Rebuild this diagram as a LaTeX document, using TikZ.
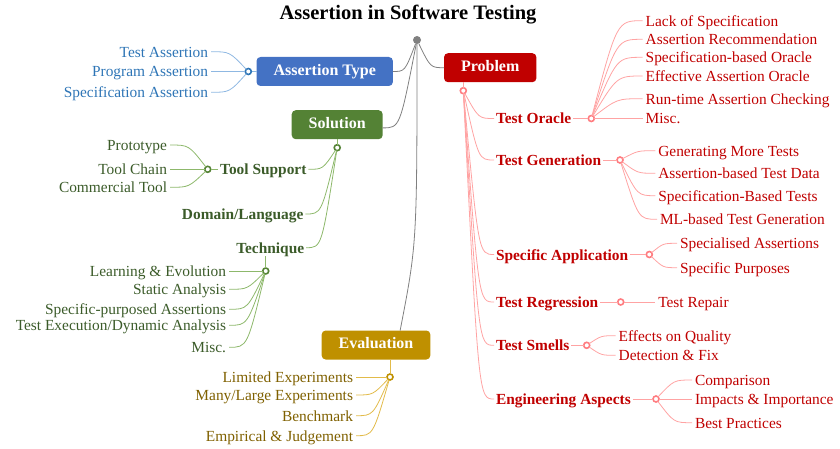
\documentclass[tikz,border=0pt]{standalone}
\usepackage{fontspec}
\setmainfont{Liberation Serif}
\usetikzlibrary{calc}
\definecolor{atblue}{HTML}{4472C4}
\definecolor{attext}{HTML}{2E75B6}
\definecolor{atline}{HTML}{8FB8E2}
\definecolor{slgreen}{HTML}{548235}
\definecolor{sltext}{HTML}{3B5B29}
\definecolor{slline}{HTML}{8DB86B}
\definecolor{evgold}{HTML}{BF9000}
\definecolor{evtext}{HTML}{7F6000}
\definecolor{evline}{HTML}{E2BB4A}
\definecolor{pbred}{HTML}{C00000}
\definecolor{pbline}{HTML}{FFA3A3}
\definecolor{pbknob}{HTML}{FF7C80}
\definecolor{rootgray}{HTML}{808080}
\begin{document}
\begin{tikzpicture}[x=1pt,y=-1pt,inner sep=0pt,outer sep=0pt,
mainbox/.style={rectangle,rounded corners=4pt,text=white,font=\bfseries\fontsize{16}{19}\selectfont,inner xsep=17pt,minimum height=29pt,text height=11pt,text depth=3.5pt},
leaf/.style={font=\fontsize{15.4}{18}\selectfont,inner xsep=3pt,text height=14pt,text depth=3pt},
sublabel/.style={font=\bfseries\fontsize{15.4}{18}\selectfont,inner xsep=2pt,text height=14pt,text depth=3pt},
knob/.style={draw,circle,fill=white,line width=1.6pt,minimum size=6pt},
rootdot/.style={circle,fill=rootgray,minimum size=8pt},
curvy/.style={to path={.. controls ($(\tikztostart |- \tikztotarget)!0.5!(\tikztotarget)$) .. (\tikztotarget) \tikztonodes}},
rootline/.style={draw=rootgray,line width=0.8pt},
atbranch/.style={draw=atline,line width=0.8pt},
slbranch/.style={draw=slline,line width=0.8pt},
evbranch/.style={draw=evline,line width=0.8pt},
pbbranch/.style={draw=pbline,line width=0.8pt}]
\useasboundingbox (0,0) rectangle (840,449);
\draw (408,14.5) node[font=\bfseries\fontsize{20.5}{24}\selectfont] (title) {Assertion in Software Testing};
\draw (417,40) node[rootdot] (root) {};
\draw (324.7,71.5) node[mainbox,fill=atblue] (atype) {Assertion Type};
\draw (490.2,67.7) node[mainbox,fill=pbred] (prob) {Problem};
\draw (337.2,124.7) node[mainbox,fill=slgreen] (sol) {Solution};
\draw (376,345) node[mainbox,fill=evgold] (eval) {Evaluation};
\draw[rootline] (root) to[curvy] (atype.east);
\draw[rootline] (root) to[curvy] (prob.west);
\draw[rootline] (root) to[curvy] (sol.-4);
\draw[rootline] (root) .. controls ($(root)!0.7!(root |- eval.31)$) .. (eval.31);
\draw (211,51.7) node[leaf,anchor=east,text=attext] (tasrt) {Test Assertion};
\draw (211,71.5) node[leaf,anchor=east,text=attext] (pasrt) {Program Assertion};
\draw (211,92.3) node[leaf,anchor=east,text=attext] (sasrt) {Specification Assertion};
\draw[atbranch] (atype.west) -- (248.3,71.5) node[knob,draw=attext] (atc) {};
\draw[atbranch] (atc) to[curvy] (tasrt.east);
\draw[atbranch] (atc) -- (pasrt.east);
\draw[atbranch] (atc) to[curvy] (sasrt.east);
\draw (337.2,147.7) node[knob,draw=slgreen] (solc) {};
\draw[slbranch] (sol.south) -- (solc);
\draw (263.3,169.3) node[sublabel,text=sltext] (tsup) {Tool Support};
\draw (242.7,214) node[sublabel,text=sltext] (dom) {Domain/Language};
\draw (270.2,247.7) node[sublabel,text=sltext] (tech) {Technique};
\draw[slbranch] (solc) to[curvy] (tsup.east);
\draw[slbranch] (solc) to[curvy] (dom.east);
\draw[slbranch] (solc) to[curvy] (tech.east);
\draw (207.7,169.3) node[knob,draw=slgreen] (tsc) {};
\draw[slbranch] (tsup.west) -- (tsc);
\draw (170,145) node[leaf,anchor=east,text=sltext] (proto) {Prototype};
\draw (170,169.3) node[leaf,anchor=east,text=sltext] (chain) {Tool Chain};
\draw (170,187.3) node[leaf,anchor=east,text=sltext] (comm) {Commercial Tool};
\draw[slbranch] (tsc) to[curvy] (proto.east);
\draw[slbranch] (tsc) -- (chain.east);
\draw[slbranch] (tsc) to[curvy] (comm.east);
\draw (265.7,271) node[knob,draw=slgreen] (tqc) {};
\draw[slbranch] (tech.south -| tqc) -- (tqc);
\draw (229,271) node[leaf,anchor=east,text=sltext] (learn) {Learning \& Evolution};
\draw (229,289.3) node[leaf,anchor=east,text=sltext] (static) {Static Analysis};
\draw (229,309.3) node[leaf,anchor=east,text=sltext] (specp) {Specific-purposed Assertions};
\draw (229,325.3) node[leaf,anchor=east,text=sltext] (dyn) {Test Execution/Dynamic Analysis};
\draw (229,347.3) node[leaf,anchor=east,text=sltext] (tmisc) {Misc.};
\draw[slbranch] (tqc) -- (learn.east);
\draw[slbranch] (tqc) to[curvy] (static.east);
\draw[slbranch] (tqc) to[curvy] (specp.east);
\draw[slbranch] (tqc) to[curvy] (dyn.east);
\draw[slbranch] (tqc) to[curvy] (tmisc.east);
\draw (390,377) node[knob,draw=evgold] (evc) {};
\draw[evbranch] (eval.south -| evc) -- (evc);
\draw (356,377) node[leaf,anchor=east,text=evtext] (limexp) {Limited Experiments};
\draw (356,395) node[leaf,anchor=east,text=evtext] (manyexp) {Many/Large Experiments};
\draw (356,415.7) node[leaf,anchor=east,text=evtext] (bench) {Benchmark};
\draw (356,435.7) node[leaf,anchor=east,text=evtext] (empir) {Empirical \& Judgement};
\draw[evbranch] (evc) -- (limexp.east);
\draw[evbranch] (evc) to[curvy] (manyexp.east);
\draw[evbranch] (evc) to[curvy] (bench.east);
\draw[evbranch] (evc) to[curvy] (empir.east);
\draw (463.3,90.7) node[knob,draw=pbknob] (prc) {};
\draw[pbbranch] (prob.south -| prc) -- (prc);
\draw (494,118.5) node[sublabel,anchor=west,text=pbred] (orcl) {Test Oracle};
\draw (494,160) node[sublabel,anchor=west,text=pbred] (tgen) {Test Generation};
\draw (494,254.5) node[sublabel,anchor=west,text=pbred] (sapp) {Specific Application};
\draw (494,302) node[sublabel,anchor=west,text=pbred] (treg) {Test Regression};
\draw (494,345.3) node[sublabel,anchor=west,text=pbred] (smell) {Test Smells};
\draw (494,399) node[sublabel,anchor=west,text=pbred] (engr) {Engineering Aspects};
\draw[pbbranch] (prc) to[curvy] (orcl.west);
\draw[pbbranch] (prc) to[curvy] (tgen.west);
\draw[pbbranch] (prc) to[curvy] (sapp.west);
\draw[pbbranch] (prc) to[curvy] (treg.west);
\draw[pbbranch] (prc) to[curvy] (smell.west);
\draw[pbbranch] (prc) to[curvy] (engr.west);
\draw (591.3,118.5) node[knob,draw=pbknob] (orc) {};
\draw[pbbranch] (orcl.east) -- (orc);
\draw (642.7,20.7) node[leaf,anchor=west,text=pbred] (lack) {Lack of Specification};
\draw (642.7,39.3) node[leaf,anchor=west,text=pbred] (recom) {Assertion Recommendation};
\draw (642.7,57.3) node[leaf,anchor=west,text=pbred] (sbo) {Specification-based Oracle};
\draw (642.7,76) node[leaf,anchor=west,text=pbred] (eao) {Effective Assertion Oracle};
\draw (642.7,98.7) node[leaf,anchor=west,text=pbred] (rtac) {Run-time Assertion Checking};
\draw (642.7,118.5) node[leaf,anchor=west,text=pbred] (omisc) {Misc.};
\draw[pbbranch] (orc) to[curvy] (lack.west);
\draw[pbbranch] (orc) to[curvy] (recom.west);
\draw[pbbranch] (orc) to[curvy] (sbo.west);
\draw[pbbranch] (orc) to[curvy] (eao.west);
\draw[pbbranch] (orc) to[curvy] (rtac.west);
\draw[pbbranch] (orc) -- (omisc.west);
\draw (620,160) node[knob,draw=pbknob] (gnc) {};
\draw[pbbranch] (tgen.east) -- (gnc);
\draw (655.3,150.7) node[leaf,anchor=west,text=pbred] (gmore) {Generating More Tests};
\draw (655.3,173.3) node[leaf,anchor=west,text=pbred] (abtd) {Assertion-based Test Data};
\draw (655.3,195.7) node[leaf,anchor=west,text=pbred] (sbt) {Specification-Based Tests};
\draw (657,219.3) node[leaf,anchor=west,text=pbred] (mltg) {ML-based Test Generation};
\draw[pbbranch] (gnc) to[curvy] (gmore.west);
\draw[pbbranch] (gnc) to[curvy] (abtd.west);
\draw[pbbranch] (gnc) to[curvy] (sbt.west);
\draw[pbbranch] (gnc) to[curvy] (mltg.west);
\draw (649.3,254.5) node[knob,draw=pbknob] (apc) {};
\draw[pbbranch] (sapp.east) -- (apc);
\draw (677,243.3) node[leaf,anchor=west,text=pbred] (spasrt) {Specialised Assertions};
\draw (677,267.7) node[leaf,anchor=west,text=pbred] (sppurp) {Specific Purposes};
\draw[pbbranch] (apc) to[curvy] (spasrt.west);
\draw[pbbranch] (apc) to[curvy] (sppurp.west);
\draw (620.7,302) node[knob,draw=pbknob] (rgc) {};
\draw[pbbranch] (treg.east) -- (rgc);
\draw (655.3,302) node[leaf,anchor=west,text=pbred] (trep) {Test Repair};
\draw[pbbranch] (rgc) -- (trep.west);
\draw (586.7,345.3) node[knob,draw=pbknob] (smc) {};
\draw[pbbranch] (smell.east) -- (smc);
\draw (615.7,335.7) node[leaf,anchor=west,text=pbred] (effq) {Effects on Quality};
\draw (615.7,355.3) node[leaf,anchor=west,text=pbred] (detfix) {Detection \& Fix};
\draw[pbbranch] (smc) to[curvy] (effq.west);
\draw[pbbranch] (smc) to[curvy] (detfix.west);
\draw (656,399) node[knob,draw=pbknob] (enc) {};
\draw[pbbranch] (engr.east) -- (enc);
\draw (692,380) node[leaf,anchor=west,text=pbred] (compar) {Comparison};
\draw (692,399) node[leaf,anchor=west,text=pbred] (impact) {Impacts \& Importance};
\draw (692,422.7) node[leaf,anchor=west,text=pbred] (bestp) {Best Practices};
\draw[pbbranch] (enc) to[curvy] (compar.west);
\draw[pbbranch] (enc) -- (impact.west);
\draw[pbbranch] (enc) to[curvy] (bestp.west);
\end{tikzpicture}
\end{document}
